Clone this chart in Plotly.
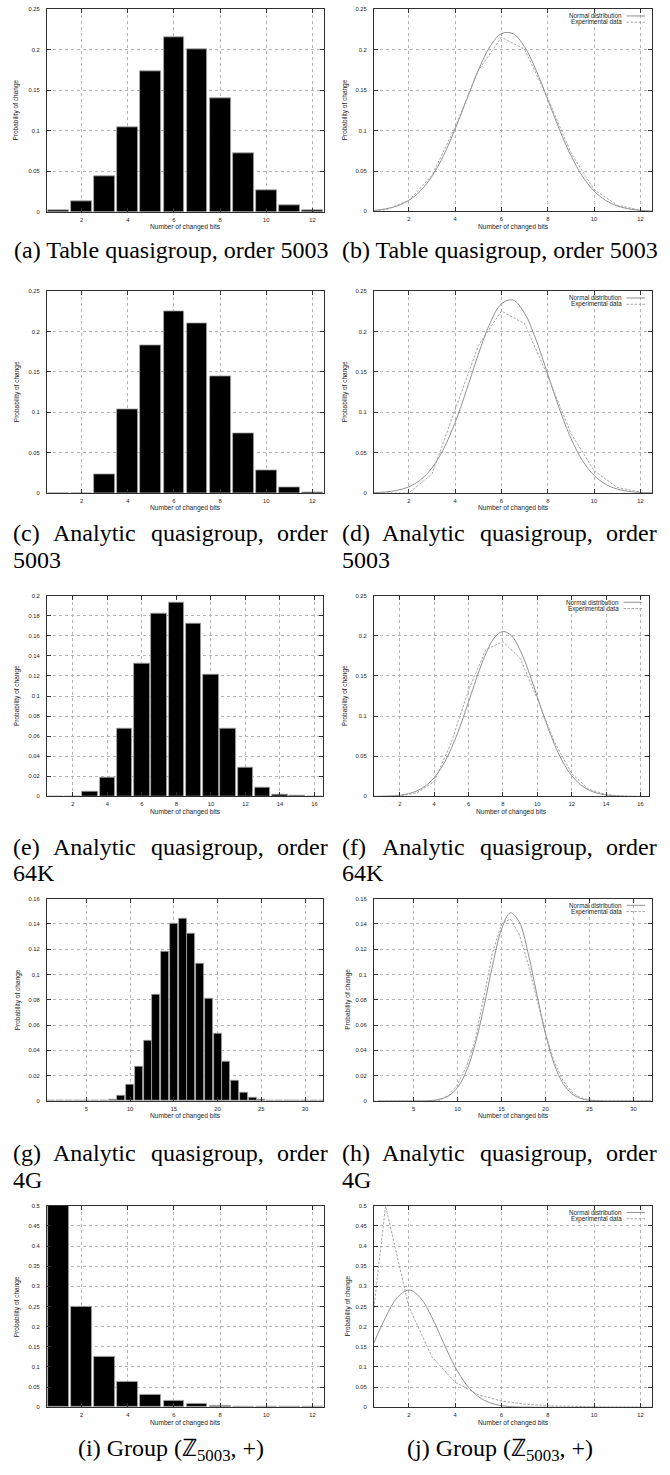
import plotly.graph_objects as go

W, H = 670, 1475

# ---------------- data ----------------
bits12 = [0, 1, 2, 3, 4, 5, 6, 7, 8, 9, 10, 11, 12]
bits16 = [0, 1, 2, 3, 4, 5, 6, 7, 8, 9, 10, 11, 12, 13, 14, 15, 16]
bits32 = [0, 1, 2, 3, 4, 5, 6, 7, 8, 9, 10, 11, 12, 13, 14, 15, 16,
          17, 18, 19, 20, 21, 22, 23, 24, 25, 26, 27, 28, 29, 30, 31, 32]

table5003_prob = [0, 0.002, 0.0135, 0.0445, 0.104, 0.174, 0.2155, 0.2005, 0.14,
                  0.0725, 0.027, 0.0078, 0.0015]
analytic5003_prob = [0, 0, 0, 0.0235, 0.104, 0.1825, 0.2255, 0.21, 0.145,
                     0.074, 0.0277, 0.0068, 0.0012]
analytic64k_prob = [0, 0, 0.0003, 0.0046, 0.0185, 0.0674, 0.132, 0.1825, 0.1927,
                    0.172, 0.1217, 0.0678, 0.0285, 0.0089, 0.0023, 0.0005, 0.0001]
analytic4g_prob = [0, 0, 0, 0, 0, 0, 0, 0, 0.0008, 0.0045, 0.013, 0.027, 0.048,
                   0.084, 0.118, 0.14, 0.144, 0.132, 0.109, 0.081, 0.053, 0.031,
                   0.016, 0.007, 0.0025, 0.0008, 0.0002, 0, 0, 0, 0, 0, 0]
group5003_prob = [0, 0.4995, 0.25, 0.125, 0.0625, 0.031, 0.0157, 0.0078, 0.0039,
                  0.002, 0.001, 0.0005, 0.0002]

normx12 = [0.5, 1.0, 1.5, 2.0, 2.5, 3.0, 3.5, 4.0, 4.5, 5.0, 5.5, 6.0, 6.5,
           7.0, 7.5, 8.0, 8.5, 9.0, 9.5, 10.0, 10.5, 11.0, 11.5, 12.0, 12.5]
normx16 = [0.5, 1.0, 1.5, 2.0, 2.5, 3.0, 3.5, 4.0, 4.5, 5.0, 5.5, 6.0, 6.5,
           7.0, 7.5, 8.0, 8.5, 9.0, 9.5, 10.0, 10.5, 11.0, 11.5, 12.0, 12.5,
           13.0, 13.5, 14.0, 14.5, 15.0, 15.5, 16.0, 16.5]
normx32 = [1, 2, 3, 4, 5, 6, 7, 8, 9, 10, 11, 12, 13, 14, 15, 16, 17, 18, 19,
           20, 21, 22, 23, 24, 25, 26, 27, 28, 29, 30, 31, 32]

table5003_normal = [0.0014, 0.0032, 0.0068, 0.0137, 0.0253, 0.0435, 0.069, 0.1017,
                    0.1384, 0.1745, 0.2035, 0.2199, 0.2199, 0.2035, 0.1745, 0.1384,
                    0.1017, 0.069, 0.0435, 0.0253, 0.0137, 0.0068, 0.0032, 0.0014,
                    0.0005]
analytic5003_normal = [0.0005, 0.0013, 0.0033, 0.0076, 0.0161, 0.031, 0.0544, 0.0873,
                       0.128, 0.1716, 0.2099, 0.2344, 0.2392, 0.2228, 0.1895, 0.1473,
                       0.1045, 0.0678, 0.0401, 0.0218, 0.0108, 0.0048, 0.002, 0.0007,
                       0.0003]
analytic64k_normal = [0.0001, 0.0003, 0.0007, 0.0016, 0.0035, 0.007, 0.0132, 0.0234,
                      0.0386, 0.0598, 0.0867, 0.1177, 0.1494, 0.1775, 0.1974, 0.2053,
                      0.2, 0.1822, 0.1554, 0.1241, 0.0927, 0.0648, 0.0424, 0.0259,
                      0.0149, 0.008, 0.004, 0.0019, 0.0008, 0.0003, 0.0001, 0.0, 0.0]
analytic4g_normal = [0, 0, 0, 0, 0, 0.0001, 0.0004, 0.0015, 0.0042, 0.0107, 0.0235,
                     0.0449, 0.0747, 0.108, 0.1359, 0.1488, 0.1417, 0.1174, 0.0847,
                     0.0531, 0.0289, 0.0138, 0.0057, 0.002, 0.0006, 0.0002, 0, 0, 0,
                     0, 0, 0]
group5003_normal = [0.16, 0.223, 0.272, 0.291, 0.272, 0.223, 0.16, 0.1004, 0.0552,
                    0.0266, 0.0112, 0.0041, 0.0013, 0.0004, 0.0001, 0, 0, 0, 0, 0,
                    0, 0, 0, 0, 0]

ticks_x12 = [2, 4, 6, 8, 10, 12]
ticks_x16 = [2, 4, 6, 8, 10, 12, 14, 16]
ticks_x32 = [5, 10, 15, 20, 25, 30]
ticks_y25 = [0, 0.05, 0.1, 0.15, 0.2, 0.25]
labels_y25 = ["0", "0.05", "0.1", "0.15", "0.2", "0.25"]
ticks_y20 = [0, 0.02, 0.04, 0.06, 0.08, 0.1, 0.12, 0.14, 0.16, 0.18, 0.2]
labels_y20 = ["0", "0.02", "0.04", "0.06", "0.08", "0.1", "0.12", "0.14", "0.16", "0.18", "0.2"]
ticks_y16 = [0, 0.02, 0.04, 0.06, 0.08, 0.1, 0.12, 0.14, 0.16]
labels_y16 = ["0", "0.02", "0.04", "0.06", "0.08", "0.1", "0.12", "0.14", "0.16"]
ticks_y50 = [0, 0.05, 0.1, 0.15, 0.2, 0.25, 0.3, 0.35, 0.4, 0.45, 0.5]
labels_y50 = ["0", "0.05", "0.1", "0.15", "0.2", "0.25", "0.3", "0.35", "0.4", "0.45", "0.5"]

x_title = "Number of changed bits"
y_title = "Probability of change"
legend_names = ["Normal distribution", "Experimental data"]

# caption texts
cap_ab = "Table quasigroup, order 5003"
cap_mid_words = ["Analytic", "quasigroup,", "order"]
cap_second = ["5003", "64K", "4G"]
cap_group = "Group (ℤ<sub>5003</sub>, +)"

# ---------------- layout helpers ----------------
SANS = "Liberation Sans, Arial, sans-serif"
SERIF = "Liberation Serif, Times New Roman, serif"
GRID = "#b4b4b4"
AX = "#303030"
TXT = "#1e1e1e"

fig = go.Figure()
annotations = []
shapes = []
layout_axes = {}


def px(x):
    return x / W


def py(y):
    return 1 - y / H


# panel boxes in pixel coords: (left, top, right, bottom)
panels = [
    dict(kind="bar", box=(47, 6.3, 324, 209.7), ytx=16, x=bits12, y=table5003_prob,
         xr=[0.5, 12.5], xt=ticks_x12, yr=[0, 0.25], yt=ticks_y25, yl=labels_y25),
    dict(kind="line", box=(374, 6.3, 652, 209.3), ytx=345, x=bits12, y=table5003_prob,
         nx=normx12, ny=table5003_normal,
         xr=[0.5, 12.5], xt=ticks_x12, yr=[0, 0.25], yt=ticks_y25, yl=labels_y25),
    dict(kind="bar", box=(47, 289.5, 324, 492), ytx=17, x=bits12, y=analytic5003_prob,
         xr=[0.5, 12.5], xt=ticks_x12, yr=[0, 0.25], yt=ticks_y25, yl=labels_y25),
    dict(kind="line", box=(374, 289.5, 652, 492), ytx=345, x=bits12, y=analytic5003_prob,
         nx=normx12, ny=analytic5003_normal,
         xr=[0.5, 12.5], xt=ticks_x12, yr=[0, 0.25], yt=ticks_y25, yl=labels_y25),
    dict(kind="bar", box=(47, 595, 323, 796.7), ytx=17, x=bits16, y=analytic64k_prob,
         xr=[0.5, 16.5], xt=ticks_x16, yr=[0, 0.2], yt=ticks_y20, yl=labels_y20),
    dict(kind="line", box=(374, 595, 649, 796.7), ytx=345, x=bits16, y=analytic64k_prob,
         nx=normx16, ny=analytic64k_normal,
         xr=[0.5, 16.5], xt=ticks_x16, yr=[0, 0.25], yt=ticks_y25, yl=labels_y25),
    dict(kind="bar", box=(47, 899.3, 323, 1102.5), ytx=17.5, x=bits32, y=analytic4g_prob,
         xr=[0.5, 32.05], xt=ticks_x32, yr=[0, 0.16], yt=ticks_y16, yl=labels_y16),
    dict(kind="line", box=(374, 899.3, 652, 1102.5), ytx=348, x=bits32, y=analytic4g_prob,
         nx=normx32, ny=analytic4g_normal,
         xr=[0.5, 32.1], xt=ticks_x32, yr=[0, 0.16], yt=ticks_y16, yl=labels_y16),
    dict(kind="bar", box=(47, 1207.7, 324, 1410), ytx=16.7, x=bits12, y=group5003_prob,
         xr=[0.5, 12.5], xt=ticks_x12, yr=[0, 0.5], yt=ticks_y50, yl=labels_y50),
    dict(kind="line", box=(374, 1207.7, 652, 1410), ytx=348, x=bits12, y=group5003_prob,
         nx=normx12, ny=group5003_normal,
         xr=[0.5, 12.5], xt=ticks_x12, yr=[0, 0.5], yt=ticks_y50, yl=labels_y50),
]

tickfont = dict(family=SANS, size=5.8, color=TXT)
NORM_COL = "#858585"
EXP_COL = "#9c9c9c"
EXP_DASH = "2.5px,1.5px"

for i, p in enumerate(panels):
    n = i + 1
    xa = "x" if n == 1 else f"x{n}"
    ya = "y" if n == 1 else f"y{n}"
    xkey = "xaxis" if n == 1 else f"xaxis{n}"
    ykey = "yaxis" if n == 1 else f"yaxis{n}"
    l, t, r, b = p["box"]
    common = dict(showline=True, linecolor=AX, linewidth=1, mirror="allticks",
                  ticks="inside", ticklen=4, tickwidth=0.8, tickcolor=AX,
                  showgrid=True, gridcolor=GRID, gridwidth=0.6, griddash="dot",
                  zeroline=False, tickfont=tickfont, fixedrange=True)
    layout_axes[xkey] = dict(domain=[px(l), px(r)], anchor=ya, range=p["xr"],
                             tickmode="array", tickvals=p["xt"],
                             ticktext=[str(v) for v in p["xt"]],
                             ticklabelstandoff=2, **common)
    layout_axes[ykey] = dict(domain=[py(b), py(t)], anchor=xa, range=p["yr"],
                             tickmode="array", tickvals=p["yt"], ticktext=p["yl"],
                             ticklabelstandoff=5, **common)
    if p["kind"] == "bar":
        fig.add_trace(go.Bar(x=p["x"], y=p["y"], width=0.9, xaxis=xa, yaxis=ya,
                             marker=dict(color="black",
                                         line=dict(color="#a8a8a8", width=0.8)),
                             showlegend=False))
    else:
        fig.add_trace(go.Scatter(x=p["nx"], y=p["ny"], mode="lines", xaxis=xa,
                                 yaxis=ya, name=legend_names[0], showlegend=False,
                                 line=dict(color=NORM_COL, width=0.9, shape="spline",
                                           smoothing=1.0)))
        fig.add_trace(go.Scatter(x=p["x"], y=p["y"], mode="lines", xaxis=xa,
                                 yaxis=ya, name=legend_names[1], showlegend=False,
                                 line=dict(color=EXP_COL, width=0.9, dash=EXP_DASH)))
        # legend in gnuplot style: label then line sample on the right
        for k, (nm, dash, col) in enumerate([(legend_names[0], "solid", NORM_COL),
                                              (legend_names[1], EXP_DASH, EXP_COL)]):
            yy = t + 6.7 + 6.3 * k
            annotations.append(dict(x=px(r - 28.5), y=py(yy), xref="paper", yref="paper",
                                    text=nm, showarrow=False, xanchor="right",
                                    yanchor="middle",
                                    font=dict(family=SANS, size=6.3, color=TXT)))
            shapes.append(dict(type="line", xref="paper", yref="paper",
                               x0=px(r - 25.5), x1=px(r - 7), y0=py(yy), y1=py(yy),
                               line=dict(color=col, width=0.9, dash=dash)))
    # axis titles
    annotations.append(dict(x=px((l + r) / 2), y=py(b + 15.5), xref="paper", yref="paper",
                            text=x_title, showarrow=False, xanchor="center",
                            yanchor="middle",
                            font=dict(family=SANS, size=6.6, color=TXT)))
    annotations.append(dict(x=px(p["ytx"]), y=py((t + b) / 2), xref="paper", yref="paper",
                            text=y_title, showarrow=False, textangle=-90,
                            xanchor="center", yanchor="middle",
                            font=dict(family=SANS, size=6.5, color=TXT)))

# ---------------- captions ----------------
capfont = dict(family=SERIF, size=24, color="black")


def cap(text, x, y, anchor="center"):
    annotations.append(dict(x=px(x), y=py(y), xref="paper", yref="paper", text=text,
                            showarrow=False, xanchor=anchor, yanchor="middle",
                            font=capfont))


# subfigure columns: left edge and width of the caption block
COLS = [11, 340]
CW = 319

cap("(a) " + cap_ab, COLS[0] + CW / 2, 248)
cap("(b) " + cap_ab, COLS[1] + CW / 2, 248)

# justified two-line captions
for (y1, y2), second, letters in zip([(532, 559), (847, 874), (1155, 1182)],
                                     cap_second, [("c", "d"), ("e", "f"), ("g", "h")]):
    for x0, letter in zip(COLS, letters):
        x1 = x0 + CW
        cap(f"({letter})", x0, y1, "left")
        cap(cap_mid_words[0], x0 + 83.5, y1, "center")
        cap(cap_mid_words[1], x0 + 196.5, y1, "center")
        cap(cap_mid_words[2], x1, y1, "right")
        cap(second, x0, y2, "left")

cap("(i) " + cap_group, COLS[0] + CW / 2, 1453)
cap("(j) " + cap_group, COLS[1] + CW / 2, 1453)

fig.update_layout(width=W, height=H, margin=dict(l=0, r=0, t=0, b=0),
                  paper_bgcolor="white", plot_bgcolor="white", showlegend=False,
                  bargap=0, annotations=annotations, shapes=shapes, **layout_axes)

fig.write_html("out.html",
               config=dict(displayModeBar=False),
               post_script="document.body.style.margin='0';"
                           "document.body.style.overflow='hidden';")
